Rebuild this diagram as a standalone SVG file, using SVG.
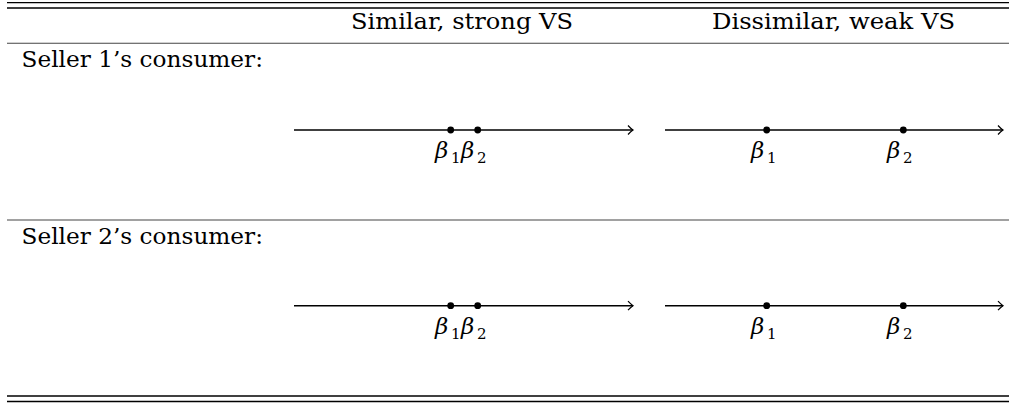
<svg xmlns="http://www.w3.org/2000/svg" width="1009" height="403" viewBox="0 0 1009 403">
<style>
.rule{stroke:#000;stroke-width:1.3;fill:none}
.mid{stroke:#444;stroke-width:1.1;fill:none}
.txt{font-family:"DejaVu Serif","Liberation Serif",serif;font-size:22px;fill:#000}
.beta{font-family:"DejaVu Serif","Liberation Serif",serif;font-style:italic;font-size:23px;fill:#000}
.sub{font-family:"DejaVu Serif","Liberation Serif",serif;font-size:15px;fill:#000}
.axis{stroke:#000;stroke-width:1.5;fill:none}
.dot{fill:#000}
</style>
<defs>
<marker id="arr" markerWidth="10" markerHeight="12" refX="7" refY="6" orient="auto" markerUnits="userSpaceOnUse">
<path d="M2,1.5 Q5,4.8 7,6 Q5,7.2 2,10.5" fill="none" stroke="#000" stroke-width="1.2"/>
</marker>
</defs>
<g id="table-rules">
<line class="rule" x1="7" y1="2.7" x2="1009" y2="2.7"/>
<line class="rule" x1="7" y1="8" x2="1009" y2="8"/>
<line class="mid" x1="7" y1="43.3" x2="1009" y2="43.3"/>
<line class="mid" x1="7" y1="220" x2="1009" y2="220"/>
<line class="rule" x1="7" y1="396" x2="1009" y2="396"/>
<line class="rule" x1="7" y1="401.5" x2="1009" y2="401.5"/>
</g>
<g id="header">
<text class="txt" x="351" y="28.5" textLength="222" lengthAdjust="spacingAndGlyphs">Similar, strong VS</text>
<text class="txt" x="712" y="28.5" textLength="243" lengthAdjust="spacingAndGlyphs">Dissimilar, weak VS</text>
</g>
<g id="row1-label">
<text class="txt" x="21.5" y="66.5" textLength="241.5" lengthAdjust="spacingAndGlyphs">Seller 1’s consumer:</text>
</g>
<g id="row2-label">
<text class="txt" x="21.5" y="243.5" textLength="241.5" lengthAdjust="spacingAndGlyphs">Seller 2’s consumer:</text>
</g>
<g id="connectors">
<line class="axis" x1="294" y1="130" x2="633" y2="130" marker-end="url(#arr)"/>
<line class="axis" x1="665" y1="130" x2="1003" y2="130" marker-end="url(#arr)"/>
<line class="axis" x1="294" y1="305.7" x2="633" y2="305.7" marker-end="url(#arr)"/>
<line class="axis" x1="665" y1="305.7" x2="1003" y2="305.7" marker-end="url(#arr)"/>
</g>
<g id="row1-similar">
<circle class="dot" cx="450.7" cy="130" r="3.4"/>
<circle class="dot" cx="477.7" cy="130" r="3.4"/>
<text class="beta" x="435" y="158">β</text><text class="sub" x="451" y="163">1</text>
<text class="beta" x="461" y="158">β</text><text class="sub" x="477" y="163">2</text>
</g>
<g id="row1-dissimilar">
<circle class="dot" cx="766.7" cy="130" r="3.4"/>
<circle class="dot" cx="903.3" cy="130" r="3.4"/>
<text class="beta" x="751" y="158">β</text><text class="sub" x="767" y="163">1</text>
<text class="beta" x="887" y="158">β</text><text class="sub" x="903" y="163">2</text>
</g>
<g id="row2-similar">
<circle class="dot" cx="450.7" cy="305.7" r="3.4"/>
<circle class="dot" cx="477.7" cy="305.7" r="3.4"/>
<text class="beta" x="435" y="333.7">β</text><text class="sub" x="451" y="338.7">1</text>
<text class="beta" x="461" y="333.7">β</text><text class="sub" x="477" y="338.7">2</text>
</g>
<g id="row2-dissimilar">
<circle class="dot" cx="766.7" cy="305.7" r="3.4"/>
<circle class="dot" cx="903.3" cy="305.7" r="3.4"/>
<text class="beta" x="751" y="333.7">β</text><text class="sub" x="767" y="338.7">1</text>
<text class="beta" x="887" y="333.7">β</text><text class="sub" x="903" y="338.7">2</text>
</g>
</svg>
